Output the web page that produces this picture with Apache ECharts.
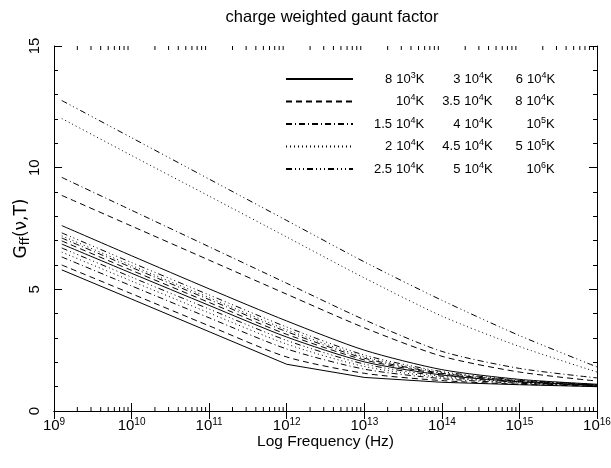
<!DOCTYPE html>
<html><head><meta charset="utf-8">
<script src="https://cdn.jsdelivr.net/npm/echarts@6/dist/echarts.min.js"></script>
<style>html,body{margin:0;padding:0;background:#fff}#c{width:611px;height:468px}</style>
</head><body><div id="c"></div>
<script>
// log10 of frequency (Hz) at which values are sampled
const logNu = [9.1, 10, 11, 12, 13, 14, 15, 16];
// temperatures (K), legend order
const temps = [8e3, 1e4, 1.5e4, 2e4, 2.5e4, 3e4, 3.5e4, 4e4, 4.5e4, 5e4, 6e4, 8e4, 1e5, 5e5, 1e6];
// Gaunt factor values for each temperature at logNu
const g8e3   = [5.80, 4.60, 3.26, 1.92, 1.38, 1.18, 1.08, 1.00];
const g1e4   = [6.00, 4.82, 3.50, 2.22, 1.55, 1.25, 1.10, 1.02];
const g15e3  = [6.33, 5.14, 3.83, 2.55, 1.72, 1.33, 1.14, 1.03];
const g2e4   = [6.53, 5.34, 4.03, 2.75, 1.83, 1.38, 1.16, 1.04];
const g25e3  = [6.70, 5.50, 4.19, 2.90, 1.93, 1.43, 1.18, 1.05];
const g3e4   = [6.86, 5.66, 4.34, 3.04, 2.02, 1.48, 1.20, 1.06];
const g35e3  = [6.99, 5.78, 4.46, 3.15, 2.10, 1.52, 1.22, 1.07];
const g4e4   = [7.11, 5.90, 4.58, 3.26, 2.17, 1.55, 1.24, 1.08];
const g45e3  = [7.20, 5.98, 4.66, 3.34, 2.23, 1.58, 1.25, 1.08];
const g5e4   = [7.32, 6.10, 4.77, 3.45, 2.30, 1.62, 1.27, 1.09];
const g6e4   = [7.62, 6.38, 5.02, 3.70, 2.50, 1.70, 1.30, 1.10];
const g8e4   = [8.86, 7.60, 6.20, 4.80, 3.42, 2.25, 1.60, 1.23];
const g1e5   = [9.60, 8.25, 6.75, 5.25, 3.75, 2.45, 1.75, 1.36];
const g5e5   = [12.02, 10.50, 8.83, 7.15, 5.47, 3.90, 2.65, 1.60];
const g1e6   = [12.76, 11.23, 9.53, 7.83, 6.13, 4.55, 3.10, 1.81];
const gValues = [g8e3, g1e4, g15e3, g2e4, g25e3, g3e4, g35e3, g4e4, g45e3, g5e4, g6e4, g8e4, g1e5, g5e5, g1e6];

// legend text: per row, three columns of [mantissa, exponent]
const legendRows = [
  [['8','3'], ['3','4'], ['6','4']],
  [['','4'], ['3.5','4'], ['8','4']],
  [['1.5','4'], ['4','4'], ['','5']],
  [['2','4'], ['4.5','4'], ['5','5']],
  [['2.5','4'], ['5','4'], ['','6']]
];
const xTickLogs = [9, 10, 11, 12, 13, 14, 15, 16];
const yRange = [0, 15];

const dashStyles = ['solid', [6,4], [6,3,1,3], [1,3], [6,3,1,3,1,3,1,3]];
const rowNames = legendRows.map((r, i) => 'row' + i);

// minor ticks of log axis (2..9 x 10^n)
const minorTicks = [];
for (let d = 9; d < 16; d++) for (let k = 2; k <= 9; k++) minorTicks.push(d + Math.log10(k));

const series = [];
gValues.forEach((vals, i) => {
  const row = i % 5;
  series.push({
    type: 'line', name: rowNames[row], symbol: 'none', symbolSize: 0, silent: true,
    smooth: i === 0 ? false : 0.25,
    data: logNu.map((x, j) => [x, vals[j]]),
    lineStyle: {color: '#000', width: 1, type: dashStyles[row]},
    itemStyle: {color: '#000'},
    z: 3
  });
});
series.push({
  type: 'custom', silent: true, clip: false,
  data: minorTicks.map(v => [v]),
  renderItem: function (params, api) {
    const v = api.value(0);
    const b = api.coord([v, yRange[0]]);
    const t = api.coord([v, yRange[1]]);
    return {type: 'group', children: [
      {type: 'line', shape: {x1: b[0], y1: b[1], x2: b[0], y2: b[1] - 4}, style: {stroke: '#000', lineWidth: 1}},
      {type: 'line', shape: {x1: t[0], y1: t[1], x2: t[0], y2: t[1] + 4}, style: {stroke: '#000', lineWidth: 1}}
    ]};
  }
});

const font = 'Liberation Sans';
const LFS = 13, SFS = 9;
// legend text layout: measure text to right-align mantissas before "10"
const ctx = document.createElement('canvas').getContext('2d');
function tw(s, size) { ctx.font = size + 'px "' + font + '"'; return ctx.measureText(s).width; }
const legendLeft = 285, legendIconW = 67, legendTextStart = legendLeft + legendIconW + 5;
const tenX = [395, 463, 525];
const rich = {
  t: {fontSize: LFS, fontFamily: font, color: '#000'},
  s: {fontSize: SFS, fontFamily: font, color: '#000', padding: [0, 0, 7, 0]},
  g: {width: 4}
};
const legendStr = {};
legendRows.forEach((r, ri) => {
  let cursor = legendTextStart;
  let str = '';
  r.forEach((c, k) => {
    const mw = c[0] ? tw(c[0], LFS) : 0;
    const sp = Math.max(0, Math.round(tenX[k] - 4 - mw - cursor));
    const key = 'p' + sp;
    rich[key] = {width: sp};
    str += `{${key}|}` + (c[0] ? `{t|${c[0]}}` : '') + `{g|}{t|10}{s|${c[1]}}{t|K}`;
    cursor = tenX[k] + tw('10', LFS) + tw(c[1], SFS) + tw('K', LFS);
  });
  legendStr[rowNames[ri]] = str;
});

const axisCommon = {
  type: 'value', axisLine: {lineStyle: {color: '#000', width: 1}},
  splitLine: {show: false}, nameMoveOverlap: false
};
const option = {
  animation: false,
  backgroundColor: '#fff',
  textStyle: {fontFamily: font},
  title: {text: 'charge weighted gaunt factor', left: 327, textAlign: 'center', top: 4,
    textStyle: {fontFamily: font, fontSize: 16.5, fontWeight: 'normal', color: '#000'}},
  grid: {left: 54, right: 14, top: 46, bottom: 57, containLabel: false, outerBoundsMode: 'none'},
  legend: {
    show: true, orient: 'vertical', left: legendLeft, top: 71, padding: 0,
    itemWidth: legendIconW, itemHeight: 14, itemGap: 8,
    data: rowNames, selectedMode: false,
    itemStyle: {opacity: 0, borderWidth: 0},
    formatter: name => legendStr[name],
    textStyle: {fontFamily: font, fontSize: LFS, color: '#000', rich: rich}
  },
  xAxis: [
    Object.assign({}, axisCommon, {position: 'bottom', min: 9, max: 16, interval: 1,
      name: 'Log Frequency (Hz)', nameLocation: 'middle', nameGap: 23,
      nameTextStyle: {fontFamily: font, fontSize: 15.5, color: '#000'},
      axisTick: {inside: true, length: 8, lineStyle: {color: '#000'}},
      axisLabel: {color: '#000', margin: 6, formatter: v => '10{s|' + v + '}',
        fontSize: 15, fontFamily: font,
        rich: {s: {fontSize: 10, fontFamily: font, padding: [0,0,8,0]}}}}),
    Object.assign({}, axisCommon, {position: 'top', min: 9, max: 16, interval: 1,
      axisTick: {inside: true, length: 8, lineStyle: {color: '#000'}},
      axisLabel: {show: false}})
  ],
  yAxis: [
    Object.assign({}, axisCommon, {position: 'left', min: yRange[0], max: yRange[1], interval: 5,
      name: 'G{sub|ff}(ν,T)', nameLocation: 'middle', nameGap: 22, nameRotate: 90,
      nameTextStyle: {fontFamily: 'DejaVu Sans', fontSize: 17, color: '#000',
        rich: {sub: {fontSize: 12, fontFamily: 'DejaVu Sans', padding: [8,0,0,0]}}},
      axisTick: {inside: true, length: 8, lineStyle: {color: '#000'}},
      minorTick: {show: true, splitNumber: 5, length: 4, lineStyle: {color: '#000'}},
      axisLabel: {color: '#000', rotate: 90, margin: 12, fontSize: 15, fontFamily: font}}),
    Object.assign({}, axisCommon, {position: 'right', min: yRange[0], max: yRange[1], interval: 5,
      axisTick: {inside: true, length: 8, lineStyle: {color: '#000'}},
      minorTick: {show: true, splitNumber: 5, length: 4, lineStyle: {color: '#000'}},
      axisLabel: {show: false}})
  ],
  series: series
};
const chart = echarts.init(document.getElementById('c'), null, {renderer: 'canvas'});
chart.setOption(option);
</script></body></html>
